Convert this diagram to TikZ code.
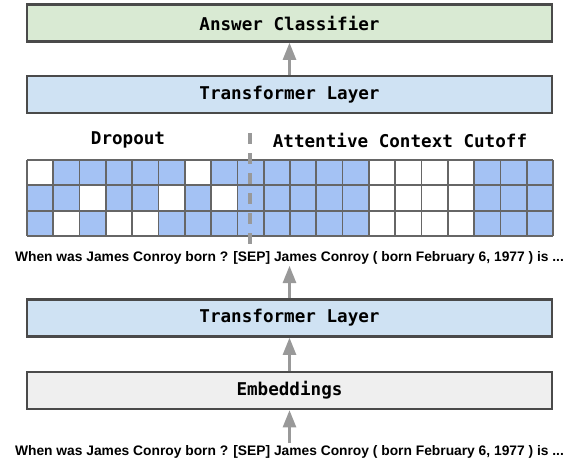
\documentclass[tikz,border=0pt]{standalone}
\usepackage{fontspec}
\usetikzlibrary{arrows.meta}
\newfontfamily\boxfont{DejaVu Sans Mono}
\newfontfamily\sentfont{Liberation Sans}
\definecolor{acgreen}{HTML}{D9EAD3}
\definecolor{tfblue}{HTML}{CFE2F3}
\definecolor{embgray}{HTML}{EFEFEF}
\definecolor{bordergray}{HTML}{4A4A4A}
\definecolor{cellblue}{HTML}{A4C2F4}
\definecolor{gridgray}{HTML}{666666}
\definecolor{arrowgray}{HTML}{999999}
\begin{document}
\begin{tikzpicture}[x=0.75pt,y=-0.75pt,
  layerbox/.style={draw=bordergray, line width=1.7pt, minimum width=393.75pt,
    minimum height=27.75pt, inner sep=0pt,
    font=\boxfont\bfseries\fontsize{13.2}{15}\selectfont},
  lbl/.style={inner sep=0pt, font=\boxfont\bfseries\fontsize{13.2}{15}\selectfont},
  sent/.style={inner sep=1.2pt, font=\sentfont\bfseries\fontsize{10.35}{12}\selectfont},
  uparrow/.style={draw=arrowgray, line width=2.2pt, -{Triangle[width=9.75pt,length=13pt]}},
  cutline/.style={draw=arrowgray, line width=2.4pt, dash pattern=on 8.25pt off 6.75pt},
  gridline/.style={draw=gridgray, line width=1.3pt},
  cell/.style={fill=cellblue}]
\useasboundingbox (0,0) rectangle (569,461);

% layers
\node[layerbox, fill=acgreen] (ac) at (289.5,23) {Answer Classifier};
\node[layerbox, fill=tfblue] (tf1) at (289.5,94.5) {Transformer Layer};
\node[layerbox, fill=tfblue] (tf2) at (289.5,318) {Transformer Layer};
\node[layerbox, fill=embgray] (emb) at (289.5,390.5) {Embeddings};

% labels
\node[lbl] (drop) at (128,140) {Dropout};
\node[lbl] (acc) at (400,140) {Attentive Context Cutoff};

% grid
\begin{scope}[shift={(27,160)}, x=19.725pt, y=-19pt]
  \fill[cell] (8,0) rectangle (13,3);
  \fill[cell] (17,0) rectangle (20,3);
  \foreach \c/\r in {1/0,2/0,3/0,4/0,5/0,7/0,
                     0/1,1/1,3/1,4/1,6/1,
                     0/2,2/2,5/2,6/2,7/2}
    \fill[cell] (\c,\r) rectangle ++(1,1);
  \foreach \i in {0,...,20}
    \draw[gridline] (\i,0) -- (\i,3);
  \foreach \j in {0,...,3}
    \draw[gridline] (0,\j) -- (20,\j);
\end{scope}

% sentences
\node[sent, anchor=base] (s1) at (289.5,261) {When was James Conroy born ? [SEP] James Conroy ( born February 6, 1977 ) is ...};
\node[sent, anchor=base] (s2) at (289.5,455) {When was James Conroy born ? [SEP] James Conroy ( born February 6, 1977 ) is ...};

% dashed cut line
\coordinate (cuttop) at (250,133);
\coordinate (cutbot) at (250,251);
\draw[cutline] (cuttop) -- (cutbot);

% arrows
\draw[uparrow] (tf1.north) -- (ac.south);
\draw[uparrow] (tf2.north) -- (s1.south);
\draw[uparrow] (emb.north) -- (tf2.south);
\draw[uparrow] (s2.north) -- (emb.south);
\end{tikzpicture}
\end{document}
